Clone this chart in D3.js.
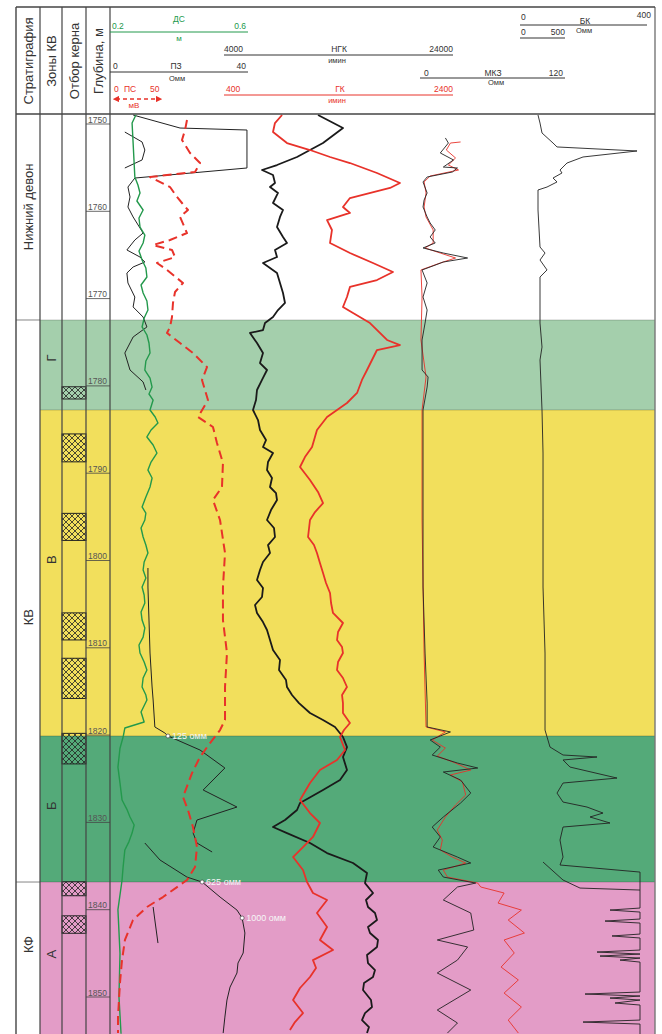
<!DOCTYPE html>
<html>
<head>
<meta charset="utf-8">
<script src="https://cdn.jsdelivr.net/npm/d3@7"></script>
<style>
  body { margin: 0; background: #fff; }
  text { font-family: "Liberation Sans", Arial, sans-serif; }
</style>
</head>
<body>
<svg id="chart" width="662" height="1034"></svg>
<script>
// ---- data (depth in m, value in curve units) ----
const stratNames = ["Нижний девон", "КВ", "КФ"];
const stratTops = [1748.9, 1772.45, 1836.83];
const stratBottoms = [1772.45, 1836.83, 1856];
const stratLabelDepths = [1759.5, 1806.5, 1844.0];

const zoneNames = ["Г", "В", "Б", "А"];
const zoneTops = [1772.45, 1782.76, 1820.1, 1836.83];
const zoneBottoms = [1782.76, 1820.1, 1836.83, 1856];
const zoneLabelDepths = [1776.8, 1799.9, 1828.1, 1845.1];

const coreTops = [1780.1, 1785.5, 1794.6, 1806.0, 1811.2, 1819.8, 1836.8, 1840.7];
const coreBottoms = [1781.5, 1788.7, 1797.7, 1809.1, 1815.8, 1823.3, 1838.4, 1842.7];

const headTitles = ["Стратиграфия", "Зоны КВ", "Отбор керна", "Глубина, м"];

// ДС, м
const dsCurve = [[1748.97,0.275],[1749.89,0.264],[1752.18,0.267],[1756.07,0.272],[1756.99,0.281],[1757.9,0.287],[1758.82,0.278],[1759.85,0.296],[1760.77,0.284],[1761.8,0.287],[1762.72,0.301],[1763.63,0.296],[1764.55,0.284],[1765.58,0.293],[1766.5,0.304],[1767.53,0.307],[1768.44,0.290],[1769.36,0.296],[1770.28,0.307],[1771.31,0.310],[1772.22,0.299],[1773.25,0.293],[1774.17,0.307],[1775.09,0.313],[1776.23,0.316],[1777.15,0.304],[1778.18,0.301],[1779.1,0.316],[1780.13,0.322],[1780.93,0.313],[1781.62,0.325],[1782.76,0.316],[1783.56,0.331],[1784.25,0.339],[1785.05,0.319],[1785.85,0.307],[1786.77,0.325],[1787.69,0.336],[1788.72,0.319],[1789.64,0.310],[1790.55,0.322],[1791.58,0.316],[1792.73,0.304],[1793.87,0.293],[1794.56,0.304],[1795.36,0.301],[1796.28,0.290],[1797.31,0.296],[1798.23,0.304],[1799.14,0.310],[1800.17,0.299],[1801.09,0.296],[1802.01,0.304],[1803.04,0.293],[1803.95,0.299],[1804.87,0.301],[1805.9,0.290],[1806.82,0.293],[1807.73,0.301],[1808.77,0.296],[1809.68,0.284],[1810.6,0.287],[1811.63,0.299],[1812.54,0.307],[1813.46,0.296],[1814.49,0.293],[1815.41,0.304],[1815.98,0.307],[1817.36,0.290],[1818.5,0.299],[1819.19,0.243],[1820.22,0.238],[1821.5,0.229],[1823.66,0.223],[1825.5,0.229],[1827.44,0.235],[1828.5,0.249],[1829.38,0.258],[1830.3,0.270],[1831.22,0.264],[1832.2,0.255],[1833.16,0.243],[1835.11,0.238],[1836.6,0.235],[1840.0,0.223],[1845.0,0.229],[1850.0,0.226],[1854.2,0.232]];

// ПЗ, Омм
const pzMain = [[1748.97,6.7],[1750.46,20.3],[1750.69,39.7],[1755.04,39.7],[1756.19,7.2],[1757.22,5.2],[1758.36,5.8],[1759.51,5.2],[1760.65,6.7],[1762.49,9.6],[1763.29,7.2],[1764.43,4.9],[1765.24,8.7],[1765.81,10.1],[1766.38,6.7],[1767.07,4.9],[1768.21,5.2],[1769.82,7.2],[1770.96,6.7],[1772.11,9.6],[1773.25,10.7],[1774.4,6.7],[1776.23,4.3],[1778.18,5.8],[1779.55,9.6],[1780.47,10.4]];
const pzLower = [[1800.86,11.0],[1803.04,11.0],[1806.82,11.3],[1810.6,11.6],[1814.49,12.2],[1815.98,12.5],[1819.07,13.0],[1819.76,15.9],[1820.1,16.8],[1821.71,26.1],[1823.77,33.3],[1826.29,27.0],[1828.24,36.8],[1829.73,25.2],[1831.22,24.1],[1832.36,25.2],[1833.39,29.6]];
const pzWrap = [[1832.36,10.1],[1834.31,14.5],[1836.26,22.3],[1836.83,26.7],[1838.55,31.9],[1840.04,36.8],[1840.95,38.3],[1842.67,39.1],[1844.96,38.6],[1846.11,37.1],[1847.25,36.8],[1848.86,34.8],[1850.35,33.9],[1852.3,33.3],[1854.13,32.8]];
const pzShort = [[1839.69,12.5],[1841.18,13.0],[1843.82,13.9]];
const pzBulge = [[1750.92,4.3],[1752.06,9.3],[1752.98,10.1],[1754.12,9.3],[1755.04,4.3]];
const wrapMarks = [[1820.1,16.8,"125 омм"],[1836.83,26.7,"625 омм"],[1840.95,38.3,"1000 омм"]];

// ПС, мВ
const psCurve = [[1749.54,75.5],[1750.69,73.5],[1751.83,70.4],[1753.32,78.6],[1754.47,88.8],[1755.5,83.7],[1756.07,37.8],[1757.22,58.2],[1758.36,65.3],[1759.05,70.4],[1759.85,76.5],[1760.65,68.4],[1762.49,75.5],[1763.29,58.2],[1763.86,40.8],[1764.43,60.2],[1765.24,63.3],[1765.92,44.9],[1766.72,55.1],[1768.21,71.4],[1769.24,63.3],[1770.5,61.2],[1772.11,60.2],[1773.25,58.2],[1773.94,55.1],[1775.09,68.4],[1776.23,81.6],[1777.84,95.9],[1779.33,90.8],[1781.62,96.9],[1783.56,86.7],[1784.71,102.0],[1786.54,106.1],[1788.83,112.2],[1791.58,111.2],[1793.07,102.0],[1795.36,109.2],[1799.14,114.3],[1803.04,112.2],[1806.82,112.2],[1810.6,116.3],[1814.49,114.3],[1818.27,114.3],[1819.42,109.2],[1820.91,99.0],[1822.51,88.8],[1824.35,80.6],[1827.09,71.4],[1828.58,76.5],[1830.53,81.6],[1832.82,85.7],[1835.11,83.7],[1836.6,75.5],[1838.55,51.0],[1839.69,34.7],[1841.18,20.4],[1843.47,12.2],[1845.77,9.2],[1848.4,7.1],[1852.3,5.1],[1854.13,5.1]];

// НГК, имин
const ngkCurve = [[1748.97,12210],[1750.46,14393],[1752.18,12647],[1753.78,10376],[1754.70,8629],[1755.27,7319],[1755.84,8280],[1756.76,8454],[1757.22,8018],[1757.90,8716],[1759.05,8280],[1759.85,9153],[1760.65,8891],[1761.80,8629],[1762.94,9153],[1763.63,9502],[1764.43,8454],[1765.24,8629],[1765.92,7406],[1767.07,8629],[1768.21,8891],[1769.36,9153],[1770.50,9328],[1771.31,8716],[1772.11,8280],[1772.80,7581],[1773.60,7406],[1773.94,6271],[1775.09,6882],[1776.23,7406],[1777.38,7144],[1778.18,7756],[1779.32,7319],[1780.47,6882],[1781.62,6795],[1782.76,6533],[1783.91,6970],[1785.05,7144],[1786.20,7668],[1787.00,7406],[1787.69,8280],[1788.72,7843],[1789.64,7756],[1790.55,8192],[1791.58,8018],[1792.27,8542],[1793.07,8629],[1794.22,8105],[1795.36,7756],[1796.28,8367],[1797.31,8454],[1798.23,7843],[1799.14,8018],[1800.17,7406],[1801.09,7144],[1802.23,6882],[1803.15,7406],[1804.18,7319],[1805.10,6708],[1806.01,6882],[1807.05,7406],[1807.96,7756],[1809.11,8018],[1810.25,8280],[1811.40,8891],[1812.54,8804],[1813.69,9415],[1814.49,9502],[1815.41,9939],[1816.33,10550],[1817.47,11511],[1818.27,12647],[1819.07,13695],[1820.22,14393],[1821.37,14743],[1822.51,14393],[1824.00,14743],[1825.15,14131],[1826.29,12647],[1827.78,10638],[1828.58,10376],[1829.73,9328],[1830.53,8280],[1831.22,9502],[1832.36,11511],[1833.51,12996],[1834.65,15267],[1835.80,16490],[1836.95,16315],[1838.09,17014],[1838.89,16402],[1839.69,16577],[1840.38,17188],[1841.18,17363],[1841.98,16577],[1842.67,16752],[1843.47,17450],[1844.27,17363],[1845.19,16490],[1846.11,16577],[1846.91,17188],[1847.71,17014],[1848.40,16228],[1849.20,16140],[1850.35,16839],[1851.15,16926],[1851.84,16315],[1852.64,16053],[1853.44,16664],[1854.13,16490]];

// ГК, имин
const gkCurve = [[1748.97,907],[1749.89,845],[1750.92,828],[1752.18,950],[1752.98,1151],[1753.78,1326],[1754.47,1500],[1755.61,1736],[1756.76,1937],[1757.33,1850],[1758.48,1500],[1759.51,1439],[1760.19,1500],[1761.00,1300],[1762.14,1343],[1763.63,1326],[1764.78,1500],[1765.92,1701],[1766.95,1876],[1767.87,1736],[1768.67,1500],[1769.82,1474],[1770.96,1439],[1771.65,1527],[1772.80,1675],[1774.74,1824],[1775.32,1937],[1775.89,1736],[1778.18,1649],[1779.32,1605],[1780.81,1562],[1781.96,1474],[1783.56,1300],[1785.05,1212],[1787.00,1169],[1788.15,1107],[1789.29,1064],[1790.78,1151],[1792.15,1221],[1793.42,1265],[1794.45,1195],[1795.36,1151],[1797.31,1134],[1798.23,1186],[1799.14,1212],[1800.29,1238],[1801.43,1265],[1802.58,1291],[1803.72,1326],[1804.87,1335],[1806.01,1352],[1807.16,1439],[1808.19,1396],[1809.11,1387],[1809.91,1431],[1810.60,1439],[1811.63,1396],[1812.54,1387],[1813.46,1439],[1814.49,1474],[1815.41,1431],[1816.33,1439],[1817.47,1439],[1818.61,1500],[1819.42,1448],[1820.22,1413],[1821.71,1457],[1822.85,1387],[1824.00,1238],[1825.49,1151],[1827.44,1064],[1828.93,1151],[1830.07,1238],[1831.67,1177],[1832.82,1090],[1833.97,1003],[1835.46,1090],[1836.83,1125],[1838.09,1177],[1838.89,1300],[1840.38,1212],[1841.98,1300],[1843.47,1238],[1844.62,1352],[1845.77,1177],[1846.68,1204],[1847.71,1151],[1848.97,1064],[1850.35,1003],[1851.84,1090],[1852.87,1020],[1853.79,976]];

// МКЗ, Омм (two probes)
const mkzBlack = [[1751.60,21.0],[1752.18,23.5],[1753.32,16.8],[1754.12,27.7],[1754.93,19.3],[1755.04,31.0],[1755.50,26.8],[1756.07,5.9],[1756.64,2.5],[1757.90,5.9],[1758.71,3.4],[1759.51,2.5],[1760.65,5.9],[1761.34,8.4],[1762.14,12.6],[1762.94,8.4],[1763.63,12.6],[1764.20,2.5],[1764.78,19.3],[1765.35,39.4],[1765.81,19.3],[1766.38,8.4],[1766.72,1.7],[1768.21,5.9],[1769.82,2.5],[1771.31,5.9],[1772.80,4.2],[1774.74,1.7],[1778.18,1.7],[1778.98,6.7],[1780.13,5.9],[1782.76,2.5],[1787.69,2.5],[1795.36,2.5],[1803.04,2.5],[1810.60,4.2],[1816.33,5.9],[1819.07,5.9],[1819.64,25.2],[1820.56,8.4],[1821.37,16.8],[1822.28,10.1],[1823.20,31.0],[1823.77,47.8],[1824.23,19.3],[1825.15,33.6],[1826.64,42.0],[1827.78,33.6],[1829.38,19.3],[1830.53,10.1],[1831.67,16.8],[1832.82,10.9],[1833.97,31.0],[1834.65,42.0],[1835.46,15.1],[1836.26,19.3],[1836.95,46.1],[1837.40,31.0],[1838.89,19.3],[1840.38,42.0],[1842.33,44.5],[1843.47,14.3],[1844.27,39.4],[1845.77,31.0],[1847.25,14.3],[1849.20,42.0],[1851.49,14.3],[1852.98,31.0],[1854.13,22.7]];
const mkzRed = [[1752.06,33.6],[1752.18,25.2],[1752.98,21.8],[1753.89,29.4],[1754.70,23.5],[1755.27,31.9],[1755.96,8.4],[1756.64,3.4],[1757.90,5.0],[1759.51,3.4],[1760.65,5.0],[1762.14,10.9],[1763.63,10.9],[1764.20,4.2],[1764.78,16.8],[1765.35,29.4],[1765.92,16.8],[1766.72,0.8],[1769.82,1.7],[1774.74,0.8],[1778.98,5.0],[1782.76,1.7],[1795.36,1.7],[1810.60,3.4],[1819.07,5.0],[1819.64,21.0],[1820.56,10.1],[1821.48,21.0],[1822.40,14.3],[1823.20,29.4],[1824.00,42.0],[1824.57,25.2],[1825.37,35.2],[1826.86,37.8],[1828.01,29.4],[1829.38,21.0],[1830.87,14.3],[1832.02,18.5],[1833.16,16.8],[1833.97,26.8],[1834.65,37.8],[1835.46,19.3],[1836.26,22.7],[1836.95,47.8],[1837.40,50.3],[1838.09,69.6],[1839.24,64.6],[1840.04,83.9],[1841.18,73.0],[1842.67,86.4],[1843.47,69.6],[1844.96,78.0],[1846.57,67.1],[1848.05,81.4],[1849.55,69.6],[1851.15,83.9],[1852.64,73.0],[1854.13,81.4]];

// БК, Омм
const bkCurve = [[1748.97,56.7],[1749.89,63],[1751.03,69.3],[1752.18,104],[1752.63,116.6],[1753.09,368.6],[1753.78,198.5],[1754.47,148],[1755.27,126],[1755.61,132.3],[1756.19,104],[1756.64,116.6],[1757.22,85.1],[1757.56,56.7],[1759.85,56.7],[1764.09,63],[1764.78,78.8],[1765.58,63],[1766.72,85.1],[1767.53,63],[1772.80,63],[1775.55,69.3],[1777.03,63],[1782.76,69.3],[1787.69,72.5],[1795.36,72.5],[1803.04,72.5],[1810.60,78.8],[1816.33,78.8],[1819.42,78.8],[1821.37,94.5],[1822.28,135.5],[1822.51,242.6],[1822.85,135.5],[1823.66,157.5],[1824.92,305.6],[1825.49,135.5],[1826.64,116.6],[1827.67,135.5],[1828.24,211],[1828.93,261.5],[1829.38,220.5],[1830.07,283.5],[1830.53,135.5],[1832.02,126],[1833.97,135.5],[1834.88,126],[1835.69,378],[1839.81,378],[1840.04,283.5],[1840.27,378],[1841.07,378],[1841.30,267.8],[1841.53,378],[1842.79,378],[1843.01,289.8],[1843.24,378],[1844.62,378],[1844.85,242.6],[1845.08,378],[1845.31,252],[1845.54,378],[1845.77,315],[1846.0,378],[1849.43,378],[1849.66,204.8],[1849.89,378],[1850.12,283.5],[1850.35,378],[1850.69,299.3],[1850.92,378],[1852.64,378],[1852.87,198.5],[1853.10,378],[1854.24,378]];
const bkBranch = [[1834.54,72.5],[1836.60,135.5],[1837.52,189],[1837.75,378]];

// ---- layout ----
const W = 662, H = 1034;
const L = 16, R = 655, T = 7, HB = 114;
const colX = [16, 40, 62, 86, 110];
const GREEN = "#23994c", RED = "#e8322a", INK = "#222";

const svg = d3.select("#chart");
const defs = svg.append("defs");

const y = d3.scaleLinear().domain([1750, 1850]).range([124, 997]);
const yc = d => Math.max(HB, Math.min(H, y(d)));

const xDS = d3.scaleLinear().domain([0.2, 0.6]).range([110, 248]);
const xPZ = d3.scaleLinear().domain([0, 40]).range([110, 248]);
const xPS = d3.scaleLinear().domain([0, 50]).range([113, 162]);
const xNGK = d3.scaleLinear().domain([4000, 24000]).range([224, 453]);
const xGK = d3.scaleLinear().domain([400, 2400]).range([224, 453]);
const xMKZ = d3.scaleLinear().domain([0, 120]).range([420, 565]);
const xBK = d3.scaleLinear().domain([0, 400]).range([520, 647]);
const xBK2 = d3.scaleLinear().domain([0, 500]).range([520, 565]);

const zoneColor = d3.scaleOrdinal().domain(zoneNames)
  .range(["#a4cfac", "#f2df5c", "#54aa79", "#e39cc7"]);

// hatch for core intervals
const pat = defs.append("pattern").attr("id", "hatch")
  .attr("patternUnits", "userSpaceOnUse").attr("width", 6).attr("height", 6);
pat.append("path").attr("d", "M0,0L6,6M6,0L0,6M-1,5L1,7M5,-1L7,1M-1,1L1,-1M5,7L7,5")
  .attr("stroke", "#222").attr("stroke-width", 0.8);

defs.append("clipPath").attr("id", "track")
  .append("rect").attr("x", 110).attr("y", HB).attr("width", R - 110).attr("height", H - HB);

defs.append("marker").attr("id", "arr").attr("viewBox", "0 0 10 10")
  .attr("refX", 5).attr("refY", 5).attr("markerWidth", 5).attr("markerHeight", 5)
  .attr("orient", "auto-start-reverse")
  .append("path").attr("d", "M0,0L10,5L0,10z").attr("fill", RED);

svg.append("rect").attr("width", W).attr("height", H).attr("fill", "#fff");

// zone bands
const zones = zoneNames.map((n, i) => ({ name: n, top: zoneTops[i], bottom: zoneBottoms[i], label: zoneLabelDepths[i] }));
svg.append("g").selectAll("rect").data(zones).join("rect")
  .attr("x", colX[1]).attr("width", R - colX[1])
  .attr("y", d => yc(d.top)).attr("height", d => yc(d.bottom) - yc(d.top))
  .attr("fill", d => zoneColor(d.name));

svg.append("g").selectAll("line").data(zones).join("line")
  .attr("x1", colX[1]).attr("x2", R)
  .attr("y1", d => y(d.top)).attr("y2", d => y(d.top))
  .attr("stroke", "rgba(0,0,0,0.25)").attr("stroke-width", 0.8);

// core
const cores = coreTops.map((t, i) => ({ top: t, bottom: coreBottoms[i] }));
svg.append("g").selectAll("rect").data(cores).join("rect")
  .attr("x", colX[2]).attr("width", colX[3] - colX[2])
  .attr("y", d => y(d.top)).attr("height", d => y(d.bottom) - y(d.top))
  .attr("fill", "url(#hatch)").attr("stroke", "#222").attr("stroke-width", 1);

// stratigraphy
const strat = stratNames.map((n, i) => ({ name: n, top: stratTops[i], bottom: stratBottoms[i], label: stratLabelDepths[i] }));
svg.append("g").selectAll("line").data(strat.slice(1)).join("line")
  .attr("x1", L).attr("x2", colX[1])
  .attr("y1", d => y(d.top)).attr("y2", d => y(d.top))
  .attr("stroke", "#666").attr("stroke-width", 0.8);

svg.append("g").selectAll("text").data(strat).join("text")
  .attr("transform", d => `translate(${(colX[0] + colX[1]) / 2 + 0.5},${y(d.label)}) rotate(-90)`)
  .attr("text-anchor", "middle").attr("dominant-baseline", "central")
  .attr("font-size", 13).attr("fill", "#333").text(d => d.name);

svg.append("g").selectAll("text").data(zones).join("text")
  .attr("transform", d => `translate(${(colX[1] + colX[2]) / 2},${y(d.label)}) rotate(-90)`)
  .attr("text-anchor", "middle").attr("dominant-baseline", "central")
  .attr("font-size", 13).attr("fill", "#333").text(d => d.name);

// depth ticks
const ticks = y.ticks(10);
const dg = svg.append("g");
dg.selectAll("line").data(ticks).join("line")
  .attr("x1", colX[3]).attr("x2", colX[4])
  .attr("y1", d => y(d)).attr("y2", d => y(d))
  .attr("stroke", "#444").attr("stroke-width", 0.8);
dg.selectAll("text").data(ticks).join("text")
  .attr("x", colX[3] + 2).attr("y", d => y(d) - 1.5)
  .attr("font-family", "'Liberation Serif', serif").attr("font-size", 8.5)
  .attr("fill", "#555").text(d => d);

// curves
const curves = [
  { data: pzBulge, x: xPZ, color: INK, w: 1 },
  { data: pzMain, x: xPZ, color: INK, w: 1 },
  { data: pzLower, x: xPZ, color: INK, w: 1 },
  { data: pzWrap, x: xPZ, color: INK, w: 1 },
  { data: pzShort, x: xPZ, color: INK, w: 1 },
  { data: dsCurve, x: xDS, color: GREEN, w: 1.4 },
  { data: psCurve, x: xPS, color: RED, w: 2, dash: "9,5" },
  { data: ngkCurve, x: xNGK, color: "#1a1a1a", w: 1.8 },
  { data: gkCurve, x: xGK, color: RED, w: 1.8 },
  { data: mkzRed, x: xMKZ, color: RED, w: 0.9 },
  { data: mkzBlack, x: xMKZ, color: INK, w: 0.9 },
  { data: bkCurve, x: xBK, color: INK, w: 0.9 },
  { data: bkBranch, x: xBK, color: INK, w: 0.9 }
];
const cg = svg.append("g").attr("clip-path", "url(#track)");
curves.forEach(c => {
  const line = d3.line().x(d => c.x(d[1])).y(d => y(d[0]));
  cg.append("path").attr("d", line(c.data))
    .attr("fill", "none").attr("stroke", c.color).attr("stroke-width", c.w)
    .attr("stroke-linejoin", "round")
    .attr("stroke-dasharray", c.dash || null);
});

// wrap marks on ПЗ
const mg = cg.append("g");
mg.selectAll("circle").data(wrapMarks).join("circle")
  .attr("cx", d => xPZ(d[1])).attr("cy", d => y(d[0])).attr("r", 2)
  .attr("fill", "#fff").attr("stroke", "#333").attr("stroke-width", 0.6);
mg.selectAll("text").data(wrapMarks).join("text")
  .attr("x", d => xPZ(d[1]) + 4).attr("y", d => y(d[0]) + 3)
  .attr("font-family", "'Liberation Serif', serif").attr("font-size", 9)
  .attr("fill", "#f6f6f6").text(d => d[2]);

// frame & column lines
const fg = svg.append("g").attr("stroke", "#444").attr("fill", "none");
fg.selectAll("line.c").data(colX.slice(1)).join("line")
  .attr("x1", d => d).attr("x2", d => d).attr("y1", T).attr("y2", H)
  .attr("stroke-width", 1.2);
fg.append("line").attr("x1", L).attr("x2", L).attr("y1", T).attr("y2", H).attr("stroke-width", 1.4);
fg.append("line").attr("x1", R).attr("x2", R).attr("y1", T).attr("y2", H).attr("stroke", "#777").attr("stroke-width", 1.4);
fg.append("line").attr("x1", L).attr("x2", R).attr("y1", T).attr("y2", T).attr("stroke-width", 1.4);
fg.append("line").attr("x1", L).attr("x2", R).attr("y1", HB).attr("y2", HB).attr("stroke-width", 1.6);

// header titles
svg.append("g").selectAll("text").data(headTitles).join("text")
  .attr("transform", (d, i) => `translate(${(colX[i] + colX[i + 1]) / 2 + 0.5},61) rotate(-90)`)
  .attr("text-anchor", "middle").attr("dominant-baseline", "central")
  .attr("font-size", 13).attr("fill", "#333").text(d => d);

// header scales
const hg = svg.append("g");
function hline(scale, yy, color, x0, x1) {
  const r = scale.range();
  hg.append("line").attr("x1", x0 ?? r[0]).attr("x2", x1 ?? r[1]).attr("y1", yy).attr("y2", yy)
    .attr("stroke", color).attr("stroke-width", 1);
}
function htext(x, yy, s, color, anchor, size) {
  hg.append("text").attr("x", x).attr("y", yy).attr("text-anchor", anchor || "start")
    .attr("font-size", size || 8.5).attr("fill", color).text(s);
}
const mid = s => (s.range()[0] + s.range()[1]) / 2;

// ДС
hline(xDS, 32, GREEN);
htext(xDS.range()[0] + 2, 29, xDS.domain()[0], GREEN);
htext(179, 22, "ДС", GREEN, "middle");
htext(xDS.range()[1] - 2, 29, xDS.domain()[1], GREEN, "end");
htext(179, 41, "м", GREEN, "middle", 8);
// НГК
hline(xNGK, 55, "#333");
htext(xNGK.range()[0], 52, xNGK.domain()[0], "#333");
htext(339, 52, "НГК", "#333", "middle");
htext(xNGK.range()[1], 52, xNGK.domain()[1], "#333", "end");
htext(337, 63, "имин", "#333", "middle", 7.5);
// ПЗ
hline(xPZ, 72, "#333");
htext(xPZ.range()[0] + 3, 69, xPZ.domain()[0], "#333");
htext(176, 69, "ПЗ", "#333", "middle");
htext(xPZ.range()[1] - 2, 69, xPZ.domain()[1], "#333", "end");
htext(177, 81, "Омм", "#333", "middle", 7.5);
// ПС
htext(xPS.range()[0] + 1, 92, xPS.domain()[0], RED);
htext(130, 92, "ПС", RED, "middle");
htext(xPS.range()[1] - 12, 92, xPS.domain()[1], RED);
hg.append("line").attr("x1", xPS.range()[0] + 3).attr("x2", xPS.range()[1] - 3).attr("y1", 99).attr("y2", 99)
  .attr("stroke", RED).attr("stroke-width", 1.3).attr("stroke-dasharray", "4,3")
  .attr("marker-start", "url(#arr)").attr("marker-end", "url(#arr)");
htext(134, 108, "мВ", RED, "middle", 8);
// ГК
hline(xGK, 95, RED);
htext(xGK.range()[0] + 2, 92, xGK.domain()[0], RED);
htext(340, 92, "ГК", RED, "middle");
htext(xGK.range()[1], 92, xGK.domain()[1], RED, "end");
htext(337, 103, "имин", RED, "middle", 7.5);
// МКЗ
hline(xMKZ, 78, "#333");
htext(xMKZ.range()[0] + 4, 76, xMKZ.domain()[0], "#333");
htext(493, 76, "МКЗ", "#333", "middle");
htext(xMKZ.range()[1] - 2, 76, xMKZ.domain()[1], "#333", "end");
htext(496, 85, "Омм", "#333", "middle", 7.5);
// БК
hline(xBK, 25, "#333");
htext(xBK.range()[0] + 1, 20, xBK.domain()[0], "#333");
htext(585, 24, "БК", "#333", "middle");
htext(651, 18, xBK.domain()[1], "#333", "end");
hline(xBK2, 38, "#333");
htext(xBK2.range()[0] + 1, 35, xBK2.domain()[0], "#333");
htext(xBK2.range()[1], 35, xBK2.domain()[1], "#333", "end");
htext(584, 33, "Омм", "#333", "middle", 7.5);
</script>
</body>
</html>
